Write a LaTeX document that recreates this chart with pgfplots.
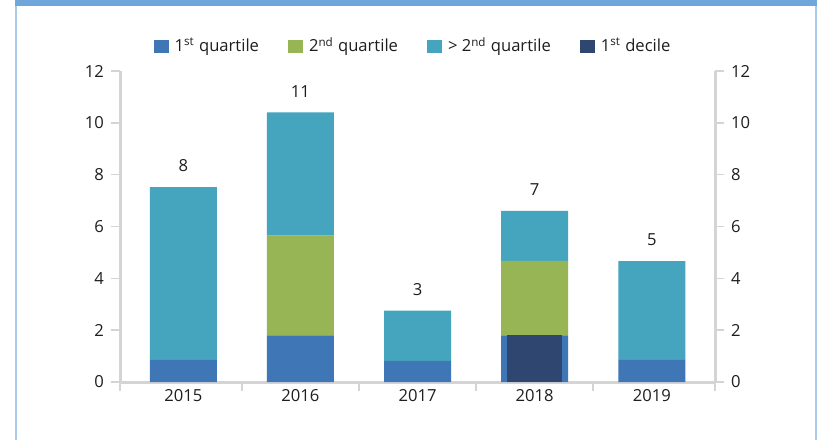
\documentclass[border=0pt]{standalone}
\usepackage{fontspec}
\setmainfont{Open Sans}
\usepackage{pgfplots}
\usepackage{pgfplotstable}
\pgfplotsset{compat=1.18}

\definecolor{cq1}{HTML}{3F76B5}
\definecolor{cq2}{HTML}{97B554}
\definecolor{cq3}{HTML}{45A5BF}
\definecolor{cdec}{HTML}{2F4770}
\definecolor{axgray}{HTML}{D4D4D4}
\definecolor{band}{HTML}{6FA7DA}
\definecolor{side}{HTML}{A9CBEB}
\definecolor{txt}{HTML}{1E1E1E}

% stacked values per year (x = 0..4 for 2015..2019)
% tot = bar height, lab = printed total above the bar
\pgfplotstableread{
x q1 q2 q3 tot lab
0 0.85 0 6.67 7.52 8
1 1.80 3.85 4.75 10.40 11
2 0.82 0 1.93 2.75 3
3 1.80 2.87 1.93 6.60 7
4 0.85 0 3.81 4.66 5
}\data

\pgfplotstableread{
x dec
3 1.80
}\decile

\begin{document}
\begin{tikzpicture}[font=\fontsize{8.3}{10}\selectfont, text=txt]
\useasboundingbox (0,0) rectangle (408.5pt,220pt);
\fill[white] (0,0) rectangle (408.5pt,220pt);
\fill[band] (7.5pt,217.2pt) rectangle (408.5pt,220pt);
\fill[side] (7.5pt,0) rectangle (8.5pt,217.2pt);
\fill[side] (407.5pt,0) rectangle (408.5pt,217.2pt);

\pgfplotsset{
  common/.style={
    at={(60pt,29pt)}, anchor=south west,
    scale only axis, width=297.5pt, height=155.5pt,
    xmin=-0.54, xmax=4.54, ymin=0, ymax=12,
    ytick={0,2,...,12},
    /pgf/number format/assume math mode=true,
    axis line style={draw=axgray, line width=1.5pt},
    tick style={draw=axgray, line width=0.8pt},
    tick align=outside, major tick length=4.5pt,
    tick label style={text=txt},
  },
}

\begin{axis}[
  common,
  ybar stacked, bar width=33.5pt,
  axis y line*=left, axis x line*=bottom,
  xtick={-0.54,0.5,1.5,2.5,3.5,4.54}, xticklabels={},
  extra x ticks={0,1,2,3,4},
  extra x tick labels={2015,2016,2017,2018,2019},
  extra x tick style={major tick length=0pt},
  legend image code/.code={\fill[#1] (0pt,-3.25pt) rectangle (7.5pt,3.25pt);},
  legend columns=4,
  legend style={draw=none, fill=none, at={(0.5,1)}, anchor=center,
    yshift=12.5pt, xshift=-2pt,
    /tikz/every even column/.append style={column sep=13pt},
    nodes={inner sep=1.5pt, text=txt}},
]
\addplot[fill=cq1, draw=none] table[x=x, y=q1] {\data};
\addlegendentry{\hspace{1.5pt}1\textsuperscript{st} quartile}
\addplot[fill=cq2, draw=none] table[x=x, y=q2] {\data};
\addlegendentry{\hspace{1.5pt}2\textsuperscript{nd} quartile}
\addplot[fill=cq3, draw=none] table[x=x, y=q3] {\data};
\addlegendentry{\hspace{1.5pt}> 2\textsuperscript{nd} quartile}
\addlegendimage{fill=cdec, draw=none}
\addlegendentry{\hspace{1.5pt}1\textsuperscript{st} decile}
\end{axis}

% narrower 1st decile bar on top, right-hand axis
\begin{axis}[
  common,
  ybar, bar width=27.5pt,
  axis y line*=right, axis x line=none,
]
\addplot[fill=cdec, draw=none] table[x=x, y=dec] {\decile};
\end{axis}

% totals printed above the bars
\begin{axis}[
  common,
  ybar, bar width=33.5pt,
  hide axis,
  every node near coord/.append style={anchor=south, yshift=4.2pt, text=txt},
]
\addplot[draw=none, fill=none, nodes near coords, point meta=explicit symbolic]
  table[x=x, y=tot, meta=lab] {\data};
\end{axis}
\end{tikzpicture}
\end{document}
